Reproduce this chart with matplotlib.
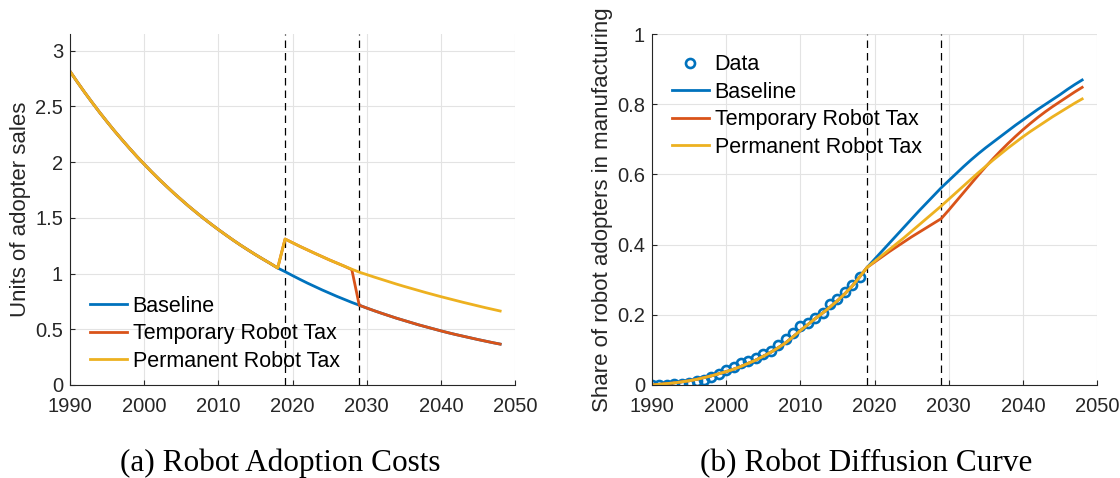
import matplotlib
matplotlib.use("Agg")
import matplotlib.pyplot as plt

years = list(range(1990, 2049))

cost_baseline = [2.815, 2.718, 2.624, 2.534, 2.446, 2.362, 2.280, 2.202, 2.126, 2.052,
                 1.982, 1.913, 1.847, 1.784, 1.722, 1.663, 1.605, 1.550, 1.496, 1.445,
                 1.395, 1.347, 1.300, 1.255, 1.212, 1.170, 1.130, 1.091, 1.050, 1.017,
                 0.982, 0.948, 0.915, 0.884, 0.853, 0.824, 0.795, 0.768, 0.741, 0.716,
                 0.691, 0.667, 0.644, 0.622, 0.600, 0.580, 0.560, 0.540, 0.522, 0.504,
                 0.486, 0.469, 0.453, 0.438, 0.423, 0.408, 0.394, 0.380, 0.367]
cost_permanent = cost_baseline[:29] + [
    1.310, 1.277, 1.244, 1.213, 1.182, 1.152, 1.122, 1.094, 1.066, 1.039,
    1.013, 0.991, 0.969, 0.948, 0.927, 0.906, 0.886, 0.867, 0.848, 0.829,
    0.811, 0.793, 0.776, 0.759, 0.742, 0.726, 0.710, 0.694, 0.679, 0.664]
cost_temporary = cost_baseline[:29] + [
    1.310, 1.277, 1.244, 1.213, 1.182, 1.152, 1.122, 1.094, 1.066, 1.035] + cost_baseline[39:]

share_common = [0.000, 0.002, 0.004, 0.006, 0.009, 0.012, 0.016, 0.021, 0.026, 0.032,
                0.038, 0.045, 0.053, 0.062, 0.071, 0.082, 0.093, 0.106, 0.120, 0.137,
                0.155, 0.172, 0.189, 0.205, 0.222, 0.240, 0.260, 0.282, 0.308, 0.335]
share_baseline = share_common + [
    0.358, 0.381, 0.404, 0.427, 0.450, 0.473, 0.496, 0.518, 0.540, 0.562,
    0.582, 0.602, 0.622, 0.641, 0.659, 0.676, 0.692, 0.708, 0.724, 0.740,
    0.755, 0.770, 0.785, 0.799, 0.813, 0.827, 0.842, 0.856, 0.869]
share_temporary = share_common + [
    0.350, 0.365, 0.380, 0.394, 0.408, 0.422, 0.435, 0.448, 0.461, 0.474,
    0.498, 0.523, 0.548, 0.573, 0.598, 0.622, 0.645, 0.667, 0.688, 0.708,
    0.727, 0.745, 0.762, 0.778, 0.793, 0.807, 0.821, 0.835, 0.848]
share_permanent = share_common + [
    0.352, 0.369, 0.386, 0.403, 0.420, 0.438, 0.456, 0.474, 0.492, 0.510,
    0.529, 0.548, 0.567, 0.586, 0.605, 0.623, 0.641, 0.658, 0.675, 0.691,
    0.707, 0.722, 0.736, 0.750, 0.764, 0.777, 0.790, 0.803, 0.815]

data_years = list(range(1990, 2019))
data_share = [0.000, 0.000, 0.001, 0.002, 0.004, 0.006, 0.010, 0.015, 0.022, 0.030,
              0.042, 0.051, 0.062, 0.069, 0.077, 0.087, 0.098, 0.115, 0.130, 0.148,
              0.168, 0.177, 0.190, 0.205, 0.230, 0.246, 0.264, 0.286, 0.309]

policy_years = [2019, 2029]
x_ticks = [1990, 2000, 2010, 2020, 2030, 2040, 2050]
cost_ticks = [0, 0.5, 1, 1.5, 2, 2.5, 3]
cost_ticklabels = ["0", "0.5", "1", "1.5", "2", "2.5", "3"]
share_ticks = [0, 0.2, 0.4, 0.6, 0.8, 1]
share_ticklabels = ["0", "0.2", "0.4", "0.6", "0.8", "1"]

C_BASE = "#0072BD"
C_TEMP = "#D95319"
C_PERM = "#EDB120"
TXT = "#262626"
FS_TICK = 14.5
FS_LABEL = 16
FS_LEG = 15.5

plt.rcParams['font.family'] = ['Liberation Sans', 'DejaVu Sans']
fig = plt.figure(figsize=(11.2, 4.78), dpi=100)
W, H = 1120, 478


def style(ax, yticks, yticklabels):
    ax.set_xlim(1990, 2050)
    ax.set_xticks(x_ticks)
    ax.set_yticks(yticks)
    ax.set_yticklabels(yticklabels)
    ax.grid(True, color="#e3e3e3", linewidth=0.8)
    ax.set_axisbelow(True)
    for s in ["top", "right"]:
        ax.spines[s].set_visible(False)
    for s in ["left", "bottom"]:
        ax.spines[s].set_color(TXT)
        ax.spines[s].set_linewidth(0.8)
    ax.tick_params(direction="in", length=3.5, colors=TXT, labelsize=FS_TICK, width=0.8)
    ax.tick_params(axis="x", pad=8.5)
    ax.tick_params(axis="y", pad=5)
    for v in policy_years:
        ax.axvline(v, color="black", linestyle=(0, (6, 4)), linewidth=0.9, zorder=1.5)


ax1 = fig.add_axes([70 / W, 1 - 385 / H, (515 - 70) / W, (385 - 34) / H])
ax1.plot(years, cost_baseline, color=C_BASE, lw=2.0, label="Baseline")
ax1.plot(years, cost_temporary, color=C_TEMP, lw=2.0, label="Temporary Robot Tax")
ax1.plot(years, cost_permanent, color=C_PERM, lw=2.0, label="Permanent Robot Tax")
ax1.set_ylim(0, 3.15)
style(ax1, cost_ticks, cost_ticklabels)
ax1.set_ylabel("Units of adopter sales", fontsize=FS_LABEL, color=TXT, labelpad=3)
ax1.legend(loc="lower left", bbox_to_anchor=(0.01, -0.005), frameon=False, fontsize=FS_LEG,
           handlelength=1.75, handletextpad=0.25, labelspacing=0.3, borderaxespad=0.3)

ax2 = fig.add_axes([652 / W, 1 - 385 / H, (1097 - 652) / W, (385 - 34) / H])
ax2.plot(data_years, data_share, linestyle="none", marker="o", markersize=6.5,
         markerfacecolor="none", markeredgecolor=C_BASE, markeredgewidth=1.9, label="Data")
ax2.plot(years, share_baseline, color=C_BASE, lw=2.0, label="Baseline")
ax2.plot(years, share_temporary, color=C_TEMP, lw=2.0, label="Temporary Robot Tax")
ax2.plot(years, share_permanent, color=C_PERM, lw=2.0, label="Permanent Robot Tax")
ax2.set_ylim(0, 1)
style(ax2, share_ticks, share_ticklabels)
ax2.set_ylabel("Share of robot adopters in manufacturing", fontsize=FS_LABEL, color=TXT,
               labelpad=3)
ax2.legend(loc="upper left", bbox_to_anchor=(0.01, 0.985), frameon=False, fontsize=FS_LEG,
           handlelength=1.75, handletextpad=0.25, labelspacing=0.3, borderaxespad=0.3)

fig.text(280 / W, 1 - 471 / H, "(a) Robot Adoption Costs", ha="center", va="baseline",
         fontsize=22.5, family=["Liberation Serif", "DejaVu Serif"], color="black")
fig.text(866 / W, 1 - 471 / H, "(b) Robot Diffusion Curve", ha="center", va="baseline",
         fontsize=22.5, family=["Liberation Serif", "DejaVu Serif"], color="black")

fig.savefig("out.png", dpi=100)
